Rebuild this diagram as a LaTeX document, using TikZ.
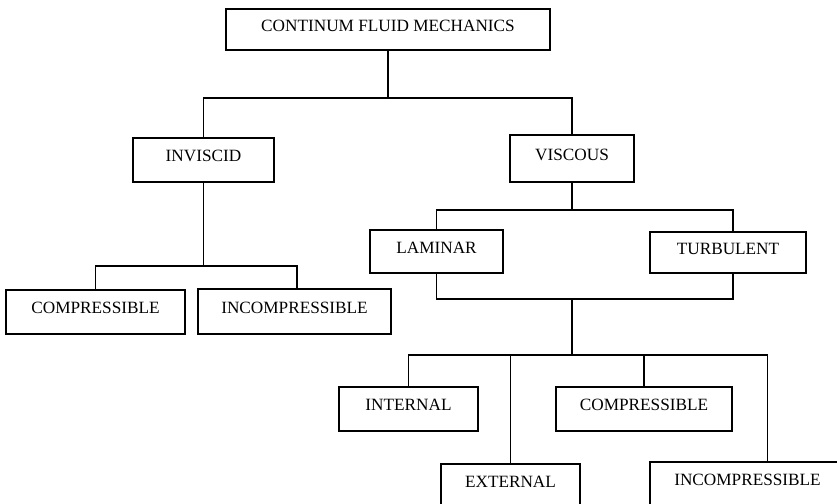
\documentclass[tikz,border=0pt]{standalone}
\usepackage{fontspec}
\setmainfont{Liberation Serif}
\usetikzlibrary{positioning}

\begin{document}
\begin{tikzpicture}[x=0.03cm, y=-0.03cm,
    box/.style={rectangle, draw, line width=1.2pt, inner sep=0pt, text depth=7pt,
        font=\fontsize{14.7pt}{17pt}\selectfont},
    link/.style={line width=1.4pt}]
    \def\h{1.32cm}
    \clip (0,0) rectangle (837,504);

    \node(top) [box, minimum width=9.72cm, minimum height=1.23cm] at (388,29.5) {CONTINUM FLUID MECHANICS};
    \node(inv) [box, minimum width=4.23cm, minimum height=\h] at (203.5,160) {INVISCID};
    \node(visc) [box, minimum width=3.72cm, minimum height=1.41cm] at (572,158.5) {VISCOUS};
    \node(comp1) [box, minimum width=5.37cm, minimum height=\h] at (95.5,312) {COMPRESSIBLE};
    \node(inc1) [box, minimum width=5.79cm, minimum height=1.35cm] at (294.5,311.5) {INCOMPRESSIBLE};
    \node(lam) [box, minimum width=3.99cm, minimum height=1.29cm] at (436.5,251.5) {LAMINAR};
    \node(turb) [box, minimum width=4.68cm, minimum height=1.23cm] at (728,252.5) {TURBULENT};
    \node(int) [box, minimum width=4.17cm, minimum height=\h] at (408.5,409) {INTERNAL};
    \node(comp2) [box, minimum width=5.28cm, minimum height=\h] at (644,409) {COMPRESSIBLE};
    \node(ext) [box, minimum width=4.17cm, minimum height=\h] at (510.5,486) {EXTERNAL};
    \node(inc2) [box, minimum width=5.85cm, minimum height=\h] at (747.5,484) {INCOMPRESSIBLE};

    \coordinate (j1) at (388,98);
    \coordinate (j2) at (203.5,266);
    \coordinate (j3) at (572,210);
    \coordinate (j4) at (572,299);
    \coordinate (j5) at (572,355);

    \draw[link] (top) -- (j1);
    \draw[link] (inv) |- (j1) -| (visc);
    \draw[link] (inv) -- (j2);
    \draw[link] (comp1) |- (j2) -| ([xshift=0.075cm]inc1.north);
    \draw[link] (visc) -- (j3);
    \draw[link] (lam) |- (j3) -| ([xshift=0.15cm]turb.north);
    \draw[link] (lam) |- (j4) -| ([xshift=0.15cm]turb.south);
    \draw[link] (j4) -- (j5);
    \draw[link] (int) |- (j5) -| ([xshift=0.6cm]inc2.north);
    \draw[link] (ext) -- (ext |- j5);
    \draw[link] (comp2) -- (comp2 |- j5);

\end{tikzpicture}
\end{document}
